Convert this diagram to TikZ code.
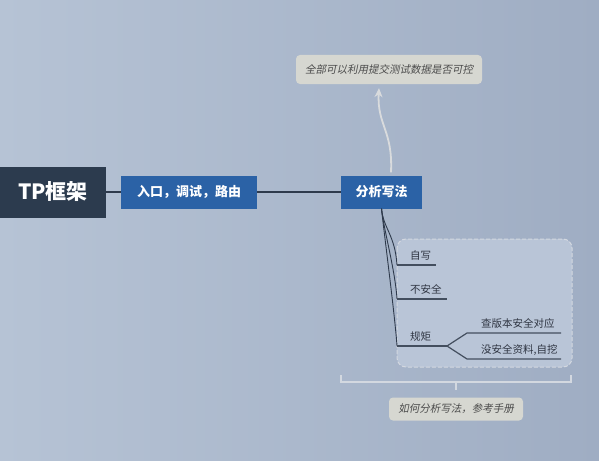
\documentclass[tikz,border=0pt]{standalone}
\usepackage{fontspec}
\setmainfont{Noto Sans CJK SC}
\newfontfamily\slantcjk[FakeSlant=0.2]{Noto Sans CJK SC}
\usetikzlibrary{arrows.meta, calc, positioning}

\definecolor{bgleft}{HTML}{B6C3D5}
\definecolor{bgright}{HTML}{9FADC3}
\definecolor{rootdark}{HTML}{2C3B4E}
\definecolor{topicblue}{HTML}{2B62A6}
\definecolor{notegray}{HTML}{D6D7D1}
\definecolor{notetext}{HTML}{4B4B4B}
\definecolor{linkdark}{HTML}{2E3A4C}
\definecolor{subtext}{HTML}{2F3542}
\definecolor{arrowgray}{HTML}{D9DBDD}
\definecolor{framefill}{HTML}{B9C5D7}
\definecolor{frameline}{HTML}{D3D8E0}

\begin{document}
\begin{tikzpicture}[x=1pt, y=-1pt,
		root/.style = {fill=rootdark, text=white, inner sep=0pt,
					minimum width=106pt, minimum height=51pt,
					font=\bfseries\fontsize{21}{21}\selectfont},
		topic/.style = {fill=topicblue, text=white, inner sep=0pt,
					minimum height=33pt,
					font=\bfseries\fontsize{13}{13}\selectfont},
		note/.style = {fill=notegray, text=notetext, rounded corners=4pt,
					inner sep=0pt, font=\slantcjk\fontsize{10.5}{10.5}\selectfont},
		sub/.style = {anchor=base west, inner sep=0pt, text=subtext,
					font=\fontsize{10.5}{10.5}\selectfont},
		link/.style = {draw=linkdark, line width=1.2pt},
		branch/.style = {draw=linkdark, line width=0.9pt},
		underline/.style = {draw=linkdark!90, line width=1.2pt},
		pointer/.style = {draw=arrowgray, line width=1.8pt,
					-{Stealth[length=9pt, width=8pt]}},
		bracket/.style = {draw=frameline, line width=1.3pt}
                   ]

%Background
    \useasboundingbox (0,0) rectangle (599,460);
    \shade[left color=bgleft, right color=bgright] (0,0) rectangle (599,460);

%Main topics
    \node[root] (tp) at (53,192) {TP框架};
    \node[topic, minimum width=136pt] (ruKou) at (189,192) {入口，调试，路由};
    \node[topic, minimum width=81pt] (fenXi) at (381.5,192) {分析写法};

    \draw[link] (tp.east) -- (ruKou.west);
    \draw[link] (ruKou.east) -- (fenXi.west);

%Notes
    \node[note, minimum width=186pt, minimum height=29pt] (topNote) at (389,69.5) {全部可以利用提交测试数据是否可控};
    \node[note, minimum width=134pt, minimum height=23pt] (bottomNote) at (456,409) {如何分析写法，参考手册};

    \draw[pointer] ([shift={(9.5,-3)}]fenXi.north) .. controls +(2,-42) and +(-2,37) .. ([shift={(-10,4)}]topNote.south);

%Frame of the subtopics
    \draw[fill=framefill, draw=frameline, line width=1pt, dash pattern=on 4pt off 2pt,
    	rounded corners=9pt] (397,239) rectangle (572,367);

%Subtopics
    \coordinate (ziXieL) at (397,265);
    \coordinate (buAnL) at (397,299);
    \coordinate (guiJuL) at (397,346);
    \coordinate (guiJuR) at (447,346);
    \coordinate (chaL) at (467,333);
    \coordinate (meiL) at (467,359);

    \node[sub] (ziXie) at ([shift={(13,-6)}]ziXieL) {自写};
    \node[sub] (buAn) at ([shift={(13,-6)}]buAnL) {不安全};
    \node[sub] (guiJu) at ([shift={(13,-6)}]guiJuL) {规矩};
    \node[sub] (cha) at ([shift={(14,-5.5)}]chaL) {查版本安全对应};
    \node[sub] (mei) at ([shift={(14,-6)}]meiL) {没安全资料,自挖};

    \foreach \child in {ziXieL, buAnL, guiJuL}
    {
		\draw[branch] (fenXi.south) .. controls +(2,20) and +(-2,-30) .. (\child);
    }

    \draw[underline] (ziXieL) -- (436,265);
    \draw[underline] (buAnL) -- (447,299);
    \draw[underline] (guiJuL) -- (guiJuR);
    \draw[underline] (guiJuR) -- (chaL) -- (561,333);
    \draw[underline] (guiJuR) -- (meiL) -- (561,359);

%Bracket
    \draw[bracket] (341,375) -- (341,382) -- (571,382) -- (571,375);
    \draw[bracket] (456,382) -- (456,390);

\end{tikzpicture}
\end{document}
